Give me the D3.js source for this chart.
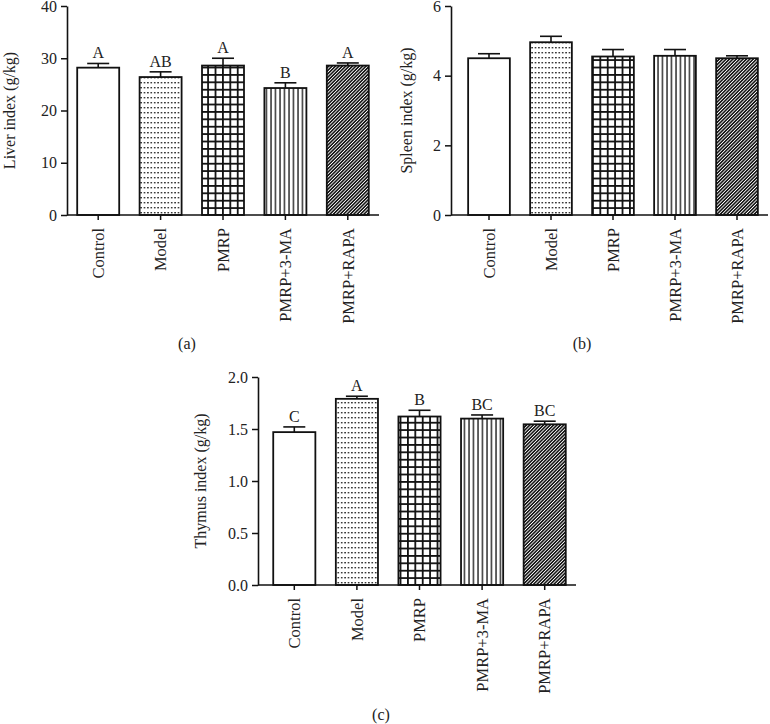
<!DOCTYPE html>
<html>
<head>
<meta charset="utf-8">
<script src="https://cdn.jsdelivr.net/npm/d3@7"></script>
<style>
  html, body { margin: 0; padding: 0; background: #fff; }
  svg { display: block; }
  text { font-family: "Liberation Serif", "DejaVu Serif", serif; fill: #222; }
</style>
</head>
<body>
<svg id="chart" width="770" height="724"></svg>
<script>
// ---------- data ----------
const categories = ["Control", "Model", "PMRP", "PMRP+3-MA", "PMRP+RAPA"];

const liverMean = [28.2, 26.4, 28.6, 24.3, 28.6];
const liverErr = [0.8, 1.0, 1.4, 1.0, 0.5];
const liverLetters = ["A", "AB", "A", "B", "A"];
const liverTicks = [0, 10, 20, 30, 40];

const spleenMean = [4.50, 4.96, 4.55, 4.57, 4.50];
const spleenErr = [0.13, 0.17, 0.20, 0.18, 0.07];
const spleenLetters = ["", "", "", "", ""];
const spleenTicks = [0, 2, 4, 6];

const thymusMean = [1.47, 1.79, 1.62, 1.60, 1.545];
const thymusErr = [0.05, 0.025, 0.06, 0.035, 0.03];
const thymusLetters = ["C", "A", "B", "BC", "BC"];
const thymusTicks = [0, 0.5, 1.0, 1.5, 2.0];

const patternIds = ["none", "dots", "grid", "vlines", "diag"];

// ---------- layout ----------
const panels = [
  { mean: liverMean, err: liverErr, letters: liverLetters, ticks: liverTicks, fmt: d3.format("d"),
    title: "Liver index (g/kg)", label: "(a)",
    axisX: 67, bandRange: [67, 379], yRange: [215, 6], titleX: 15, labelPos: [187, 349] },
  { mean: spleenMean, err: spleenErr, letters: spleenLetters, ticks: spleenTicks, fmt: d3.format("d"),
    title: "Spleen index (g/kg)", label: "(b)",
    axisX: 451, bandRange: [458, 768], yRange: [215, 6], titleX: 412, labelPos: [582, 349] },
  { mean: thymusMean, err: thymusErr, letters: thymusLetters, ticks: thymusTicks, fmt: d3.format(".1f"),
    title: "Thymus index (g/kg)", label: "(c)",
    axisX: 258, bandRange: [263, 576], yRange: [585, 377], titleX: 206, labelPos: [381, 720] }
];

const svg = d3.select("#chart");

// ---------- patterns ----------
const defs = svg.append("defs");
const pDots = defs.append("pattern").attr("id", "dots").attr("patternUnits", "userSpaceOnUse")
  .attr("width", 3.4).attr("height", 5);
pDots.append("rect").attr("width", 3.4).attr("height", 5).attr("fill", "#fff");
pDots.append("rect").attr("x", 1).attr("y", 2).attr("width", 1.4).attr("height", 1.4).attr("fill", "#111");

const pGrid = defs.append("pattern").attr("id", "grid").attr("patternUnits", "userSpaceOnUse")
  .attr("width", 7.4).attr("height", 7.4);
pGrid.append("rect").attr("width", 7.4).attr("height", 7.4).attr("fill", "#fff");
pGrid.append("line").attr("x1", 0.9).attr("x2", 0.9).attr("y1", 0).attr("y2", 7.4).attr("stroke", "#111").attr("stroke-width", 1.8);
pGrid.append("line").attr("y1", 0.9).attr("y2", 0.9).attr("x1", 0).attr("x2", 7.4).attr("stroke", "#111").attr("stroke-width", 1.8);

const pV = defs.append("pattern").attr("id", "vlines").attr("patternUnits", "userSpaceOnUse")
  .attr("width", 4.5).attr("height", 10);
pV.append("rect").attr("width", 4.5).attr("height", 10).attr("fill", "#fff");
pV.append("line").attr("x1", 1).attr("x2", 1).attr("y1", 0).attr("y2", 10).attr("stroke", "#111").attr("stroke-width", 1.3);

const pD = defs.append("pattern").attr("id", "diag").attr("patternUnits", "userSpaceOnUse")
  .attr("width", 2.4).attr("height", 10).attr("patternTransform", "rotate(45)");
pD.append("rect").attr("width", 2.4).attr("height", 10).attr("fill", "#fff");
pD.append("line").attr("x1", 0.8).attr("x2", 0.8).attr("y1", 0).attr("y2", 10).attr("stroke", "#111").attr("stroke-width", 1.55);

// ---------- draw panels ----------
panels.forEach(p => {
  const x = d3.scaleBand().domain(categories).range(p.bandRange)
    .paddingInner(0.327).paddingOuter(0.1635);
  const yMax = p.ticks[p.ticks.length - 1];
  const y = d3.scaleLinear().domain([0, yMax]).range(p.yRange);
  const g = svg.append("g");

  const rows = categories.map((c, i) => ({ c, m: p.mean[i], e: p.err[i], l: p.letters[i], pat: patternIds[i] }));

  // bars
  g.selectAll("rect.bar").data(rows).join("rect").attr("class", "bar")
    .attr("x", d => x(d.c)).attr("width", x.bandwidth())
    .attr("y", d => y(d.m)).attr("height", d => y(0) - y(d.m))
    .attr("fill", d => d.pat === "none" ? "#fff" : `url(#${d.pat})`)
    .attr("stroke", "#111").attr("stroke-width", 1.8);

  // error bars (upper)
  const cx = d => x(d.c) + x.bandwidth() / 2;
  g.selectAll("line.err").data(rows).join("line").attr("class", "err")
    .attr("x1", cx).attr("x2", cx).attr("y1", d => y(d.m)).attr("y2", d => y(d.m + d.e))
    .attr("stroke", "#111").attr("stroke-width", 1.6);
  g.selectAll("line.cap").data(rows).join("line").attr("class", "cap")
    .attr("x1", d => cx(d) - 11).attr("x2", d => cx(d) + 11)
    .attr("y1", d => y(d.m + d.e)).attr("y2", d => y(d.m + d.e))
    .attr("stroke", "#111").attr("stroke-width", 1.6);

  // letters
  g.selectAll("text.sig").data(rows).join("text").attr("class", "sig")
    .attr("x", cx).attr("y", d => y(d.m + d.e) - 5)
    .attr("text-anchor", "middle").attr("font-size", 16).text(d => d.l);

  // y axis
  const yAxis = d3.axisLeft(y).tickValues(p.ticks).tickFormat(p.fmt).tickSize(6).tickSizeOuter(0).tickPadding(4);
  const ya = g.append("g").attr("transform", `translate(${p.axisX},0)`).call(yAxis);
  ya.select(".domain").attr("stroke", "#111").attr("stroke-width", 1.6);
  ya.selectAll(".tick line").attr("stroke", "#111").attr("stroke-width", 1.5);
  ya.selectAll(".tick text").attr("font-size", 16).attr("font-family", "Liberation Serif").attr("fill", "#222");

  // x axis
  const xAxis = d3.axisBottom(x).tickSize(5).tickSizeOuter(0).tickFormat("");
  const xa = g.append("g").attr("transform", `translate(0,${y(0)})`).call(xAxis);
  xa.select(".domain").remove();
  xa.selectAll(".tick line").attr("stroke", "#111").attr("stroke-width", 1.5);
  g.append("line").attr("x1", p.axisX).attr("x2", p.bandRange[1])
    .attr("y1", y(0)).attr("y2", y(0)).attr("stroke", "#111").attr("stroke-width", 1.6);

  // category labels
  g.selectAll("text.cat").data(categories).join("text").attr("class", "cat")
    .attr("transform", c => `translate(${x(c) + x.bandwidth() / 2},${y(0) + 13}) rotate(-90)`)
    .attr("text-anchor", "end").attr("dy", "0.35em").attr("font-size", 16.5).text(c => c);

  // y title
  const midY = (p.yRange[0] + p.yRange[1]) / 2;
  g.append("text").attr("transform", `translate(${p.titleX},${midY}) rotate(-90)`)
    .attr("text-anchor", "middle").attr("font-size", 16).text(p.title);

  // panel label
  g.append("text").attr("x", p.labelPos[0]).attr("y", p.labelPos[1])
    .attr("text-anchor", "middle").attr("font-size", 16).text(p.label);
});
</script>
</body>
</html>
